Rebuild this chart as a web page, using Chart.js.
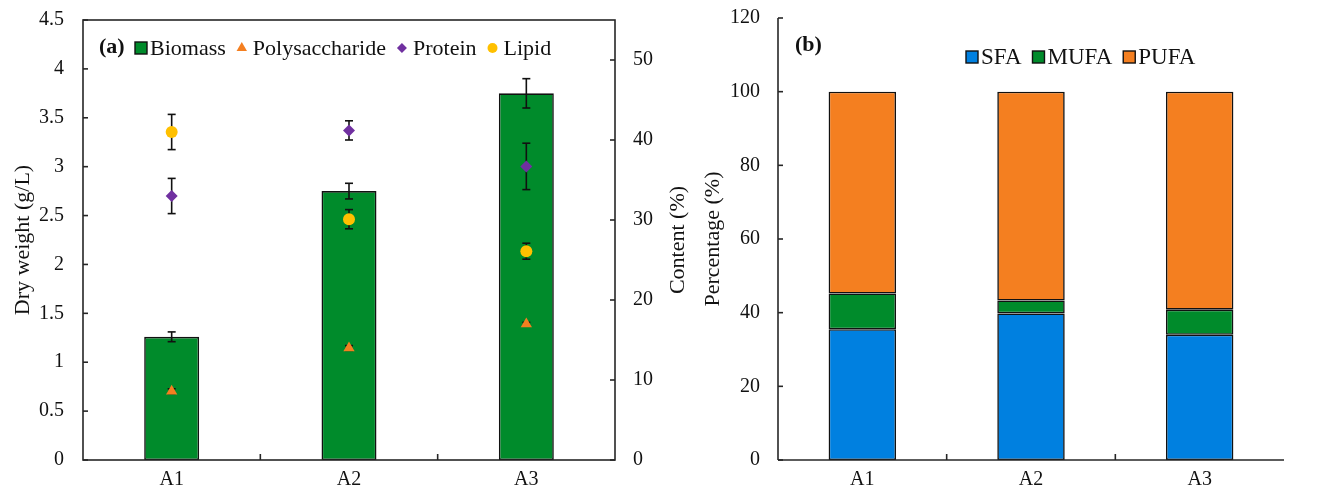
<!DOCTYPE html>
<html><head><meta charset="utf-8">
<script src="https://cdn.jsdelivr.net/npm/chart.js@4.4.1/dist/chart.umd.min.js"></script>
<style>
html,body{margin:0;padding:0;background:#fff;}
#wrap{position:relative;width:1324px;height:498px;overflow:hidden;}
.box{position:absolute;top:0;height:498px;}
</style></head><body>
<div id="wrap">
  <div class="box" style="left:0;width:700px"><canvas id="ca" width="700" height="498"></canvas></div>
  <div class="box" style="left:700px;width:624px"><canvas id="cb" width="624" height="498"></canvas></div>
</div>
<script>
// ---------- data ----------
const categories = ['A1', 'A2', 'A3'];
const biomass = [1.26, 2.75, 3.75];
const biomassErr = [0.05, 0.08, 0.15];
const polysaccharide = [8.6, 14.0, 17.0];
const polysaccharideErr = [0.3, 0.3, 0.2];
const protein = [33.0, 41.2, 36.7];
const proteinErr = [2.2, 1.2, 2.9];
const lipid = [41.0, 30.1, 26.1];
const lipidErr = [2.2, 1.2, 1.0];
const sfa = [35.5, 39.8, 34.0];
const mufa = [9.7, 3.5, 6.8];
const pufa = [54.8, 56.7, 59.2];

// ---------- style ----------
const FONT = "'Liberation Serif', 'Times New Roman', serif";
const AX = '#262626';
const GREEN = '#008B2B';
const ORANGE = '#F47F20';
const BLUE = '#0080E0';
const PURPLE = '#7030A0';
const YELLOW = '#FFC000';
const TICK_FONT = { size: 20, family: FONT };
const TITLE_FONT = { size: 22, family: FONT };
Chart.defaults.font.family = FONT;
Chart.defaults.font.size = 20;
Chart.defaults.color = '#111';
Chart.defaults.animation = false;

function line(ctx, x1, y1, x2, y2) { ctx.beginPath(); ctx.moveTo(x1, y1); ctx.lineTo(x2, y2); ctx.stroke(); }
const plain = v => String(v);

function drawErr(chart, dsIndex, axisId) {
  const ds = chart.data.datasets[dsIndex];
  if (!ds.errors) return;
  const meta = chart.getDatasetMeta(dsIndex);
  const ys = chart.scales[axisId];
  const ctx = chart.ctx;
  ctx.save();
  ctx.strokeStyle = '#111';
  ctx.lineWidth = 1.6;
  meta.data.forEach((el, i) => {
    const v = ds.data[i], e = ds.errors[i];
    const x = el.x;
    const yt = ys.getPixelForValue(v + e), yb = ys.getPixelForValue(v - e);
    line(ctx, x, yt, x, yb);
    line(ctx, x - 4, yt, x + 4, yt);
    line(ctx, x - 4, yb, x + 4, yb);
  });
  ctx.restore();
}

const errorPlugin = {
  id: 'errs',
  beforeDatasetDraw(chart, args) {
    const ds = chart.data.datasets[args.index];
    if (ds.type === 'line') drawErr(chart, args.index, ds.yAxisID);
  },
  afterDatasetDraw(chart, args) {
    const ds = chart.data.datasets[args.index];
    if (ds.type === 'bar') drawErr(chart, args.index, ds.yAxisID);
  }
};

function drawLegendItems(ctx, items, x, y, gap, size) {
  items.forEach(it => {
    ctx.save();
    if (it.kind === 'box') {
      ctx.fillStyle = it.color;
      ctx.fillRect(x, y - 6, 12, 12);
      ctx.strokeStyle = '#111';
      ctx.lineWidth = 1.4;
      ctx.strokeRect(x, y - 6, 12, 12);
      x += 15;
    } else {
      ctx.fillStyle = it.color;
      ctx.strokeStyle = it.color;
      Chart.helpers.drawPoint(ctx, { pointStyle: it.kind, radius: it.r, rotation: 0, borderWidth: 0 }, x + 5, y);
      x += 16;
    }
    ctx.restore();
    ctx.fillStyle = '#111';
    ctx.textBaseline = 'middle';
    ctx.textAlign = 'left';
    ctx.font = size + 'px ' + FONT;
    ctx.fillText(it.text, x, y + 1);
    x += ctx.measureText(it.text).width + gap;
  });
}

const frameA = {
  id: 'frameA',
  afterDraw(chart) {
    const { ctx, chartArea: a } = chart;
    const y = chart.scales.y, y1 = chart.scales.y1, xs = chart.scales.x;
    ctx.save();
    ctx.strokeStyle = AX;
    ctx.lineWidth = 1.6;
    ctx.strokeRect(a.left, a.top, a.right - a.left, a.bottom - a.top);
    y.ticks.forEach(t => { const p = y.getPixelForValue(t.value); line(ctx, a.left, p, a.left + 5, p); });
    y1.ticks.forEach(t => { const p = y1.getPixelForValue(t.value); line(ctx, a.right, p, a.right - 5, p); });
    for (let i = 0; i < xs.ticks.length - 1; i++) {
      const p = (xs.getPixelForTick(i) + xs.getPixelForTick(i + 1)) / 2;
      line(ctx, p, a.bottom, p, a.bottom - 6);
    }
    ctx.restore();
    // right axis title, reading bottom-to-top
    ctx.save();
    ctx.translate(678, (a.top + a.bottom) / 2);
    ctx.rotate(-Math.PI / 2);
    ctx.font = '22px ' + FONT;
    ctx.fillStyle = '#111';
    ctx.textAlign = 'center';
    ctx.textBaseline = 'middle';
    ctx.fillText('Content (%)', 0, 0);
    ctx.restore();
    // legend
    ctx.save();
    ctx.font = 'bold 22px ' + FONT;
    ctx.fillStyle = '#111';
    ctx.textBaseline = 'middle';
    ctx.fillText('(a)', 99, 47);
    const ds = chart.data.datasets;
    drawLegendItems(ctx, [
      { kind: 'box', color: ds[0].backgroundColor, text: ds[0].label },
      { kind: ds[1].pointStyle, r: 6, color: ds[1].backgroundColor, text: ds[1].label },
      { kind: ds[2].pointStyle, r: 5, color: ds[2].backgroundColor, text: ds[2].label },
      { kind: ds[3].pointStyle, r: 5, color: ds[3].backgroundColor, text: ds[3].label }
    ], 135, 48, 11, 22);
    ctx.restore();
  }
};

const frameB = {
  id: 'frameB',
  afterDraw(chart) {
    const { ctx, chartArea: a } = chart;
    const y = chart.scales.y, xs = chart.scales.x;
    ctx.save();
    ctx.strokeStyle = AX;
    ctx.lineWidth = 1.6;
    line(ctx, a.left, a.top, a.left, a.bottom);
    line(ctx, a.left, a.bottom, a.right, a.bottom);
    y.ticks.forEach(t => { const p = y.getPixelForValue(t.value); line(ctx, a.left, p, a.left + 5, p); });
    for (let i = 0; i < xs.ticks.length - 1; i++) {
      const p = (xs.getPixelForTick(i) + xs.getPixelForTick(i + 1)) / 2;
      line(ctx, p, a.bottom, p, a.bottom - 6);
    }
    ctx.restore();
    ctx.save();
    ctx.font = 'bold 22px ' + FONT;
    ctx.fillStyle = '#111';
    ctx.textBaseline = 'middle';
    ctx.fillText('(b)', 95, 45);
    const ds = chart.data.datasets;
    drawLegendItems(ctx, ds.map(d => ({ kind: 'box', color: d.backgroundColor, text: d.label })), 266, 57, 11, 23);
    ctx.restore();
  }
};

function fixW(w) { return s => { s.width = w; s.paddingTop = 0; s.paddingBottom = 0; }; }
function fixH(h) { return s => { s.height = h; s.paddingLeft = 0; s.paddingRight = 0; }; }

// ---------- chart (a) ----------
new Chart(document.getElementById('ca'), {
  data: {
    labels: categories,
    datasets: [
      { type: 'bar', label: 'Biomass', data: biomass, errors: biomassErr, yAxisID: 'y', order: 2,
        backgroundColor: GREEN, borderColor: '#111', borderWidth: 1.6, borderSkipped: false,
        barPercentage: 0.31, categoryPercentage: 1 },
      { type: 'line', label: 'Polysaccharide', data: polysaccharide, errors: polysaccharideErr, yAxisID: 'y1', order: 1,
        showLine: false, pointStyle: 'triangle', pointRadius: 6.5, backgroundColor: ORANGE, borderColor: ORANGE, pointBorderWidth: 0 },
      { type: 'line', label: 'Protein', data: protein, errors: proteinErr, yAxisID: 'y1', order: 1,
        showLine: false, pointStyle: 'rectRot', pointRadius: 6, backgroundColor: PURPLE, borderColor: PURPLE, pointBorderWidth: 0 },
      { type: 'line', label: 'Lipid', data: lipid, errors: lipidErr, yAxisID: 'y1', order: 1,
        showLine: false, pointStyle: 'circle', pointRadius: 6, backgroundColor: YELLOW, borderColor: YELLOW, pointBorderWidth: 0 }
    ]
  },
  options: {
    responsive: false, devicePixelRatio: 1,
    layout: { padding: { top: 20, left: 0, right: 0, bottom: 0 } },
    plugins: { legend: { display: false }, tooltip: { enabled: false } },
    scales: {
      x: { type: 'category', offset: true, grid: { display: false, drawTicks: false }, border: { display: false },
           ticks: { padding: 8, color: '#111', font: TICK_FONT }, afterFit: fixH(38) },
      y: { position: 'left', min: 0, max: 4.5, grid: { display: false, drawTicks: false }, border: { display: false },
           ticks: { stepSize: 0.5, padding: 19, color: '#111', font: TICK_FONT, callback: plain },
           title: { display: true, text: 'Dry weight (g/L)', color: '#111', font: TITLE_FONT, padding: { top: 10, bottom: 0 } },
           afterFit: fixW(83) },
      y1: { position: 'right', min: 0, max: 55, grid: { display: false, drawTicks: false }, border: { display: false },
            ticks: { stepSize: 10, padding: 18, color: '#111', font: TICK_FONT, callback: plain },
            afterBuildTicks: s => { s.ticks = s.ticks.filter(t => t.value % 10 === 0); },
            title: { display: false },
            afterFit: fixW(85) }
    }
  },
  plugins: [errorPlugin, frameA]
});

// ---------- chart (b) ----------
new Chart(document.getElementById('cb'), {
  type: 'bar',
  data: {
    labels: categories,
    datasets: [
      { label: 'SFA', data: sfa, backgroundColor: BLUE },
      { label: 'MUFA', data: mufa, backgroundColor: GREEN },
      { label: 'PUFA', data: pufa, backgroundColor: ORANGE }
    ].map(d => Object.assign(d, { borderColor: '#111', borderWidth: 1.6, borderSkipped: false, barPercentage: 0.4, categoryPercentage: 1 }))
  },
  options: {
    responsive: false, devicePixelRatio: 1,
    layout: { padding: { top: 18, left: 0, right: 40, bottom: 0 } },
    plugins: { legend: { display: false }, tooltip: { enabled: false } },
    scales: {
      x: { stacked: true, offset: true, grid: { display: false, drawTicks: false }, border: { display: false },
           ticks: { padding: 8, color: '#111', font: TICK_FONT }, afterFit: fixH(38) },
      y: { stacked: true, min: 0, max: 120, grid: { display: false, drawTicks: false }, border: { display: false },
           ticks: { stepSize: 20, padding: 18, color: '#111', font: TICK_FONT, callback: plain },
           title: { display: true, text: 'Percentage (%)', color: '#111', font: TITLE_FONT, padding: { top: 0, bottom: 0 } },
           afterFit: fixW(78) }
    }
  },
  plugins: [frameB]
});
</script>
</body></html>
